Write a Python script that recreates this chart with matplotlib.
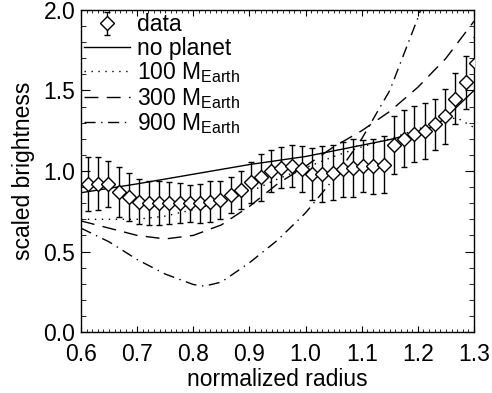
import matplotlib
matplotlib.use("Agg")
import matplotlib.pyplot as plt
from matplotlib.ticker import MultipleLocator

plt.rcParams['font.family'] = ['Liberation Sans', 'DejaVu Sans']
plt.rcParams['mathtext.fontset'] = 'custom'
plt.rcParams['mathtext.rm'] = 'Liberation Sans'
plt.rcParams['mathtext.it'] = 'Liberation Sans'

# observed profile
radius = [0.612, 0.630, 0.648, 0.667, 0.685, 0.703, 0.721, 0.739, 0.757, 0.776,
          0.794, 0.812, 0.830, 0.848, 0.867, 0.885, 0.903, 0.921, 0.939, 0.957,
          0.976, 0.994, 1.012, 1.030, 1.048, 1.067, 1.085, 1.103, 1.121, 1.139,
          1.157, 1.176, 1.194, 1.212, 1.230, 1.248, 1.267, 1.285, 1.303]
brightness = [0.92, 0.92, 0.92, 0.87, 0.84, 0.81, 0.80, 0.80, 0.80, 0.80,
              0.80, 0.80, 0.81, 0.82, 0.85, 0.88, 0.93, 0.96, 1.00, 1.02,
              1.03, 1.01, 0.98, 0.98, 0.99, 1.01, 1.02, 1.03, 1.03, 1.04,
              1.16, 1.20, 1.23, 1.25, 1.29, 1.34, 1.45, 1.55, 1.67]
error = [0.17, 0.165, 0.145, 0.155, 0.148, 0.14, 0.138, 0.135, 0.13, 0.125,
         0.115, 0.12, 0.128, 0.12, 0.112, 0.119, 0.128, 0.145, 0.128, 0.128,
         0.13, 0.143, 0.16, 0.175, 0.17, 0.17, 0.18, 0.16, 0.17, 0.175,
         0.18, 0.176, 0.174, 0.175, 0.16, 0.17, 0.16, 0.165, 0.165]

# model curves
r_none = [0.6, 0.7, 0.8, 0.9, 1.0, 1.1, 1.15, 1.2, 1.23, 1.25, 1.27, 1.3]
b_none = [0.865, 0.92, 0.98, 1.04, 1.09, 1.16, 1.195, 1.24, 1.28, 1.33, 1.40, 1.50]

r_100 = [0.6, 0.65, 0.7, 0.75, 0.8, 0.85, 0.9, 0.95, 1.0, 1.05, 1.1, 1.15, 1.2, 1.25, 1.27, 1.3]
b_100 = [0.70, 0.70, 0.70, 0.72, 0.76, 0.81, 0.87, 0.95, 1.02, 1.09, 1.15, 1.20, 1.26, 1.32, 1.33, 1.27]

r_300 = [0.6, 0.65, 0.7, 0.75, 0.8, 0.85, 0.9, 0.95, 1.0, 1.05, 1.1, 1.15, 1.2, 1.25, 1.3]
b_300 = [0.69, 0.645, 0.60, 0.578, 0.60, 0.665, 0.78, 0.92, 1.03, 1.15, 1.25, 1.37, 1.52, 1.70, 1.93]

r_900 = [0.6, 0.65, 0.7, 0.75, 0.8, 0.82, 0.85, 0.9, 0.95, 1.0, 1.05, 1.1, 1.15, 1.2, 1.22]
b_900 = [0.645, 0.56, 0.45, 0.36, 0.295, 0.285, 0.31, 0.43, 0.57, 0.74, 0.95, 1.20, 1.50, 1.95, 2.15]

fig = plt.figure(figsize=(4.92, 3.93), dpi=100)
ax = fig.add_axes([0.1646, 0.1552, 0.7988, 0.8194])

h_data = ax.errorbar(radius, brightness, yerr=error, fmt='D', ms=7, mfc='white', mec='black',
                     mew=1.0, ecolor='black', elinewidth=1.0, capsize=2.2, capthick=1.0,
                     color='black', label='data', zorder=3)
h0, = ax.plot(r_none, b_none, color='black', lw=1.0, ls='-', label='no planet')
h1, = ax.plot(r_100, b_100, color='black', lw=1.0, ls=(0, (1, 4)), label=r'100 M$_{\mathrm{Earth}}$')
h2, = ax.plot(r_300, b_300, color='black', lw=1.0, ls=(0, (10, 6)), label=r'300 M$_{\mathrm{Earth}}$')
h3, = ax.plot(r_900, b_900, color='black', lw=1.0, ls=(0, (8, 4, 1, 4)), label=r'900 M$_{\mathrm{Earth}}$')

ax.set_xlim(0.6, 1.3)
ax.set_ylim(0.0, 2.0)
ax.xaxis.set_major_locator(MultipleLocator(0.1))
ax.xaxis.set_minor_locator(MultipleLocator(0.01))
ax.yaxis.set_major_locator(MultipleLocator(0.5))
ax.yaxis.set_minor_locator(MultipleLocator(0.1))
ax.xaxis.set_major_formatter(plt.FormatStrFormatter('%.1f'))
ax.yaxis.set_major_formatter(plt.FormatStrFormatter('%.1f'))

ax.tick_params(which='both', direction='in', top=True, right=True, labelsize=16.5)
ax.tick_params(axis='x', which='major', length=4.5, pad=8)
ax.tick_params(axis='x', which='minor', length=2)
ax.tick_params(axis='y', which='major', length=6.5, pad=4)
ax.tick_params(axis='y', which='minor', length=3.5)
for s in ax.spines.values():
    s.set_linewidth(1.0)

ax.set_xlabel('normalized radius', fontsize=16.5, labelpad=1)
ax.set_ylabel('scaled brightness', fontsize=16.5, labelpad=6)

ax.legend([h_data, h0, h1, h2, h3],
          ['data', 'no planet', r'100 M$_{\mathrm{Earth}}$',
           r'300 M$_{\mathrm{Earth}}$', r'900 M$_{\mathrm{Earth}}$'],
          loc='upper left', frameon=False, fontsize=16.5, handlelength=2.0,
          handletextpad=0.3, labelspacing=0.02, borderaxespad=0.0,
          borderpad=0.15)

fig.savefig('out.png', dpi=100)
